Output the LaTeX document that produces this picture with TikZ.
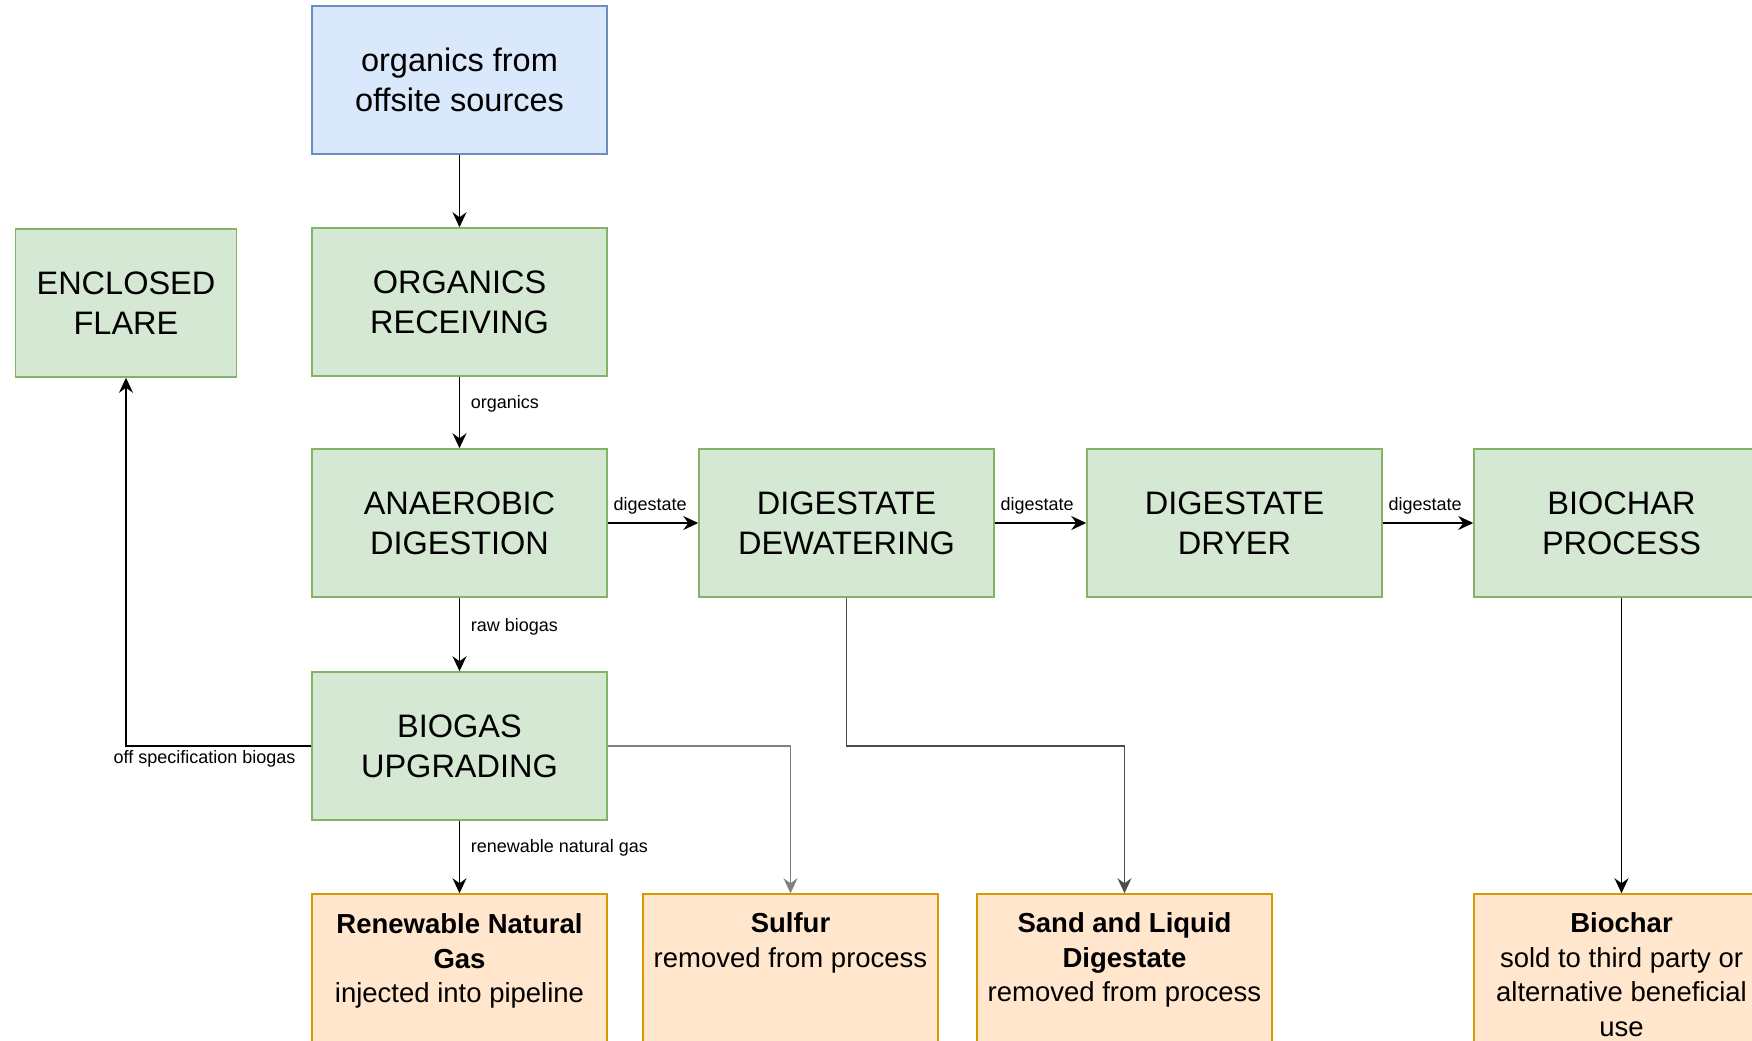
\documentclass[tikz,border=0pt]{standalone}
\usepackage{fontspec}
\setmainfont{Liberation Sans}
\usetikzlibrary{arrows.meta}
\definecolor{procfill}{HTML}{D5E8D4}
\definecolor{procdraw}{HTML}{82B366}
\definecolor{srcfill}{HTML}{DAE8FC}
\definecolor{srcdraw}{HTML}{6C8EBF}
\definecolor{outfill}{HTML}{FFE6CC}
\definecolor{outdraw}{HTML}{D79B00}
\tikzset{
  proc/.style={draw=procdraw, fill=procfill, line width=0.75pt, inner sep=0pt,
    minimum width=147.5pt, minimum height=74pt, align=center,
    font=\fontsize{16.25}{20}\selectfont},
  src/.style={proc, draw=srcdraw, fill=srcfill},
  outbox/.style={draw=outdraw, fill=outfill, line width=0.75pt, inner sep=0pt,
    minimum width=147.5pt, minimum height=74pt},
  outtext/.style={anchor=north, align=center, inner sep=0pt,
    font=\fontsize{13.75}{17.25}\selectfont},
  flowlabel/.style={font=\fontsize{9}{11}\selectfont, inner sep=1pt},
}
\begin{document}
\begin{tikzpicture}[x=0.5pt, y=-0.5pt, >={Stealth[length=7.5pt,width=7pt,inset=2.5pt]}, line width=0.8pt]
  \useasboundingbox (0,0) rectangle (1752,1040);
  \clip (0,0) rectangle (1752,1040);

  % process blocks
  \node[src] (offsite) at (459.5,80) {organics from\\offsite sources};
  \node[proc, minimum width=110.5pt] (flare) at (126,303) {ENCLOSED\\FLARE};
  \node[proc] (receiving) at (459.5,302) {ORGANICS\\RECEIVING};
  \node[proc] (ad) at (459.5,523) {ANAEROBIC\\DIGESTION};
  \node[proc] (dewater) at (846.5,523) {DIGESTATE\\DEWATERING};
  \node[proc] (dryer) at (1234.5,523) {DIGESTATE\\DRYER};
  \node[proc] (biocharproc) at (1621.5,523) {BIOCHAR\\PROCESS};
  \node[proc] (upgrading) at (459.5,746) {BIOGAS\\UPGRADING};

  % products
  \node[outbox] (rng) at (459.5,968) {};
  \node[outtext] (rngtext) at ([yshift=-10pt]rng.north) {\textbf{Renewable Natural}\\\textbf{Gas}\\injected into pipeline};
  \node[outbox] (sulfur) at (790.5,968) {};
  \node[outtext] (sulfurtext) at ([yshift=-9.5pt]sulfur.north) {\textbf{Sulfur}\\removed from process};
  \node[outbox] (sand) at (1124.5,968) {};
  \node[outtext] (sandtext) at ([yshift=-9.5pt]sand.north) {\textbf{Sand and Liquid}\\\textbf{Digestate}\\removed from process};
  \node[outbox] (biochar) at (1621.5,968) {};
  \node[outtext] (biochartext) at ([yshift=-9.5pt]biochar.north) {\textbf{Biochar}\\sold to third party or\\alternative beneficial\\use};

  % flows
  \draw[->] (offsite) -- (receiving);
  \draw[->] (receiving) -- node[flowlabel, anchor=west, pos=0.38, xshift=4.25pt] (lblorganics) {organics} (ad);
  \draw[->] (ad) -- node[flowlabel, anchor=south west, pos=0, xshift=1.5pt, yshift=3pt] (lbldig1) {digestate} (dewater);
  \draw[->] (dewater) -- node[flowlabel, anchor=south west, pos=0, xshift=1.5pt, yshift=3pt] (lbldig2) {digestate} (dryer);
  \draw[->] (dryer) -- node[flowlabel, anchor=south west, pos=0, xshift=1.5pt, yshift=3pt] (lbldig3) {digestate} (biocharproc);
  \draw[->] (ad) -- node[flowlabel, anchor=west, pos=0.4, xshift=4.25pt] (lblraw) {raw biogas} (upgrading);
  \draw[->] (upgrading) -- node[flowlabel, anchor=west, pos=0.38, xshift=4.25pt] (lblrng) {renewable natural gas} (rng);
  \draw[->] (upgrading.west) -| node[flowlabel, anchor=north east, pos=0, xshift=-6.5pt, yshift=-1pt] (lbloff) {off specification biogas} (flare.south);
  \draw[->, draw=black!50] (upgrading.east) -| (sulfur.north);
  \draw[->, draw=black!70] (dewater.south) -- (dewater.south |- upgrading.east) -| (sand.north);
  \draw[->] (biocharproc) -- (biochar);
\end{tikzpicture}
\end{document}
